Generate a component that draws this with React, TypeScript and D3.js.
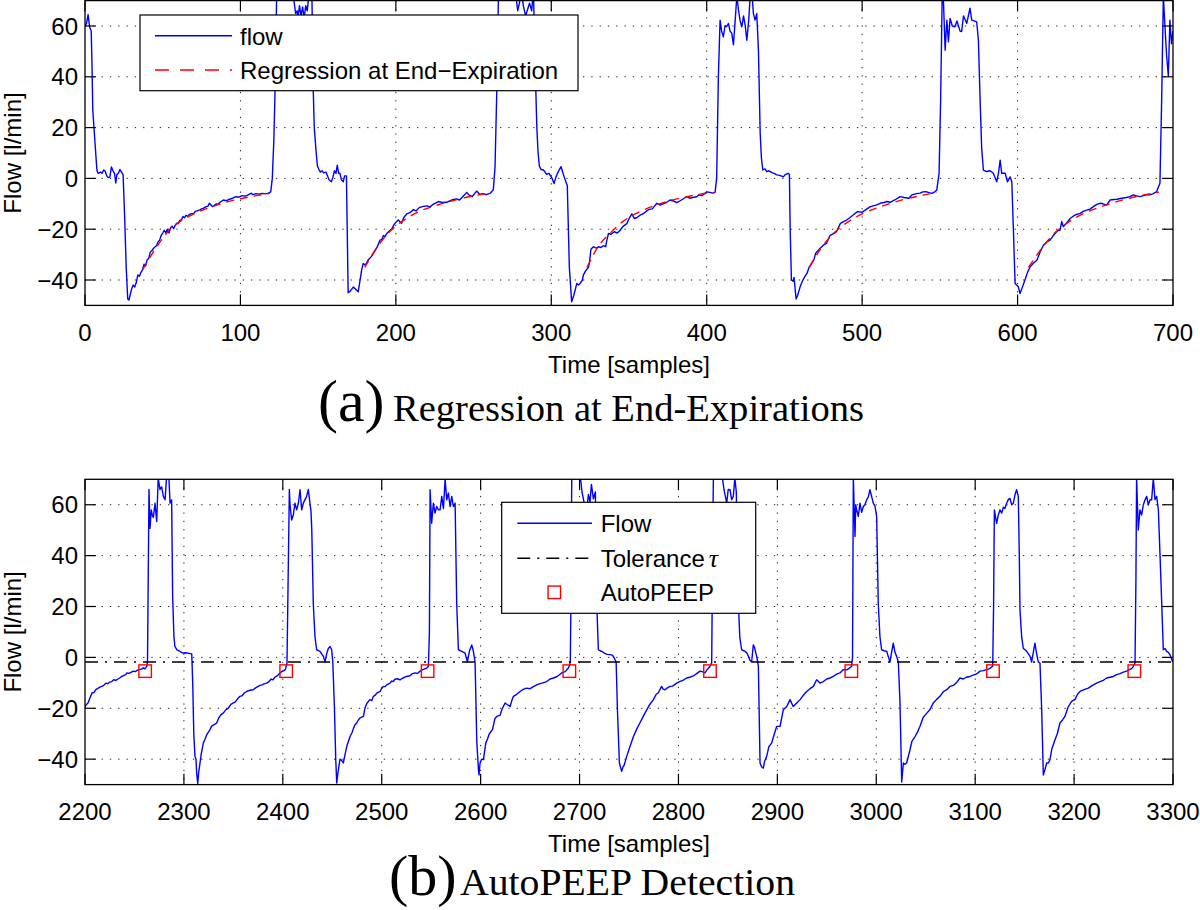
import React from 'react';
import * as d3 from 'd3';

// ---------- data ----------
const yTicks = [-40, -20, 0, 20, 40, 60];
const yDomain: [number, number] = [-50, 70];
const xTicksTop = [0, 100, 200, 300, 400, 500, 600, 700];
const xTicksBottom = [2200, 2300, 2400, 2500, 2600, 2700, 2800, 2900, 3000, 3100, 3200, 3300];

const flowTop: [number, number][] = [
  [0,60],[1,61],[2,64.5],[3,59.5],[4,58],[4.5,45],[5,27],[6,18],[7,9],[7.7,3],[8.5,2],[10,2.5],[11,2],[12,3.3],[13,2.8],[14,1],[15,0.3],[16,0.5],[17,4.5],[18,3],[19,2],[19.8,-1.8],[20.5,1.5],[21.5,2],[22.5,3.5],[23.5,2.5],[24.5,1.5],[25.5,-15],[26.5,-35],[27.5,-47.5],[28.3,-47.9],[29,-46],[30,-43.5],[31,-42],[32,-42.8],[33,-41],[34,-38],[35,-38.5],[36,-37],[37,-36],[38,-33.8],[39,-34.5],[40,-32],[41,-31.5],[42,-29],[43,-28.5],[44,-27.6],[45,-27],[46,-26.5],[47,-25],[48,-24.3],[49,-22.5],[50,-21.5],[51,-20.4],[52,-21.5],[53,-20],[54,-21.5],[55,-19.5],[56,-18.8],[57,-19.8],[58,-18.5],[59,-17.6],[60,-17.8],[61,-16.5],[62,-16.5],[63,-15],[64,-15.5],[65,-14.5],[66,-15],[67,-14.3],[68,-14],[70,-13.8],[71,-13],[72,-12.8],[74,-12.4],[75,-12],[76,-11.8],[78,-11.1],[79,-11],[80,-9.8],[81,-10.5],[82,-11.1],[83,-10.8],[84,-10.2],[86,-10],[87,-9.3],[89,-8.5],[91,-8.8],[93,-8.2],[95,-7.8],[97,-7.2],[99,-7.4],[101,-6.8],[103,-7],[105,-6.5],[107,-5.8],[108,-6.4],[110,-6],[112,-6.2],[114,-5.9],[116,-6.1],[118,-5.8],[119.5,-5.3],[120.5,0],[121.5,15],[122.5,40],[123.3,72],[124,80],[126,82],[128,78],[130,80],[132,76],[134,72],[135.5,65],[136.5,66],[137,63],[138,68],[139,64],[140,67.5],[141,63],[142,68],[143,66],[144,72],[145,75],[146,72],[146.8,36],[147.5,20],[148.5,12],[149.5,5],
  [150.5,3.5],[151.5,2.5],[152.5,3],[153.5,2.2],[155,2.5],[156,1],[157,-0.5],[158.5,-1.3],[159.5,0.5],[160.5,3],[161.5,2],[162.3,5.2],[163.2,2],[164,2],[165,-0.5],[166.2,-1.3],[167,1],[168.2,1],[169.3,-45],[170.5,-44.5],[172.6,-42.8],[174,-43.5],[175.8,-44.6],[177,-40],[178,-36],[179,-33.5],[180,-34],[181,-33.5],[182,-32.2],[184.4,-30.7],[186,-29],[187,-28],[188,-27],[189.8,-24.3],[191,-24],[192,-22.5],[193,-23],[194,-21.8],[196.3,-20.4],[197.5,-19.8],[199,-18],[200.5,-17],[201.6,-16.4],[202.5,-17],[203.7,-17.7],[205,-15.5],[207,-14],[209,-13.5],[211.3,-12.3],[213,-12.8],[215,-11.5],[217.7,-11],[220,-10.8],[222,-11.2],[224,-10.2],[227.4,-9.1],[230,-9.5],[232.7,-9.4],[235,-8.8],[237,-8.3],[239.1,-8.1],[241,-8.5],[243,-7.2],[245.6,-5.5],[247,-6.5],[249,-7.2],[252,-5],[254,-6.3],[256,-6],[258,-6.4],[260.6,-5.9],[262.7,-4.5],[263.8,4.4],[265,36],[266,72],[268,80],[272,84],[276,78],[278.4,66],[279.5,69],[280.5,75],[282,68],[283.5,64],[285,67],[286,69],[287.4,66],[288.5,74],[289.6,45],[290.7,20],[291.5,10],[292.4,4.6],[293.5,3.5],[294.9,3.3],[296,2.5],[297,1.6],[298.5,2],[300.2,0.4],[301.8,-2],[303,0.5],[304,2],[305.2,3.5],[306.3,4.6],[307.3,2.5],[308.4,0.4],[309.5,-1.5],[310.3,-2.8],[311.6,-34.8],[313.1,-48.6],
  [314.5,-46],[316.4,-41.4],[317.5,-42],[318.5,-41.4],[320,-40],[320.7,-38],[322,-36.5],[323.9,-35],[324.6,-33],[325.5,-27.9],[327.1,-26.9],[329,-27.5],[330.3,-26.9],[332,-27.2],[333.5,-26.5],[335,-26.9],[335.7,-24.5],[336.8,-21.7],[338.5,-22],[340.5,-21],[342.5,-21.5],[344.3,-20.4],[346,-19],[348.6,-17.8],[350.3,-15.5],[351.8,-14],[353.5,-15.8],[355,-15.5],[357.1,-14.5],[359,-14],[361.4,-12.8],[363,-12.2],[365,-12],[367.9,-9.8],[370,-10.5],[372,-10],[374,-9.5],[376.4,-8.5],[379,-9],[380.8,-9.5],[382.9,-8.8],[385,-8],[387.2,-7.2],[389,-7.8],[391,-7.5],[393.6,-7.2],[395,-6.5],[397,-6.8],[400,-5.3],[402,-5.5],[404,-5.8],[405.4,-5.5],[406.4,0],[407.5,40],[408.6,62.3],[409.6,58],[410.7,55.7],[411.8,60],[412.9,59.8],[414,61],[415,58],[416.1,57.2],[417.2,52.6],[418.3,62],[419.4,72],[420.5,66],[421.5,62],[422.6,59.7],[423.7,64],[424.8,60],[425.8,54.4],[427,62],[428,72],[429,74],[430,65],[431.1,62.3],[432.2,64.9],[433.3,50],[434.4,17.8],[435.2,8],[436.1,3.3],[437.5,3.8],[438.6,2.7],[440,3],[442,2.3],[444,1.8],[445,1.4],[447,1.2],[449.3,0.6],[450.5,1.5],[452.5,2],[453.2,1.5],[453.7,-20],[454.5,-40],[455.5,-40.5],[456.2,-39],[457.5,-47.5],[458.5,-46],[460.1,-42.7],[461.5,-40.5],[463,-38.8],[464.5,-37.4],[466,-34.8],[467.5,-33.5],[469,-32],[470,-29.6],[473,-27.5],[475,-26.3],[477,-25.6],[479.4,-22.4],[481.5,-21.7],[483.5,-21],[486,-17.7],[488,-17],[490,-16.4],[492,-15.5],[494,-14.5],[497,-13.1],[500,-13.3],[502,-12.5],[505,-11.2],[507,-10.8],[509,-10.5],[511.6,-9.8],[514,-9.5],[516,-9.1],[518,-9.4],[521,-8.5],[524.5,-7.2],[527,-7.5],[530,-7.8],[532,-6.5],[535,-6],[537.3,-5.8],[539,-5.3],[541,-5.2],[543,-5.6],[545,-5.9],[547,-5.2],[548,-4.6],
  [549.5,2],[550.5,31],[551.5,72],[552.3,70],[553.4,50.5],[554.5,62.3],[555.5,53.8],[556.6,63],[558,60],[559.7,59.7],[561,62],[563,58],[564,57.8],[565.2,64],[567.3,61],[569.4,67],[570.5,62.3],[572,62],[573.7,61.6],[574.8,54.4],[575.9,31],[576.9,12],[578,3.3],[580,2.7],[582.3,3],[584.4,2],[586.6,-1.3],[587.7,2],[588.8,7.2],[589.8,2],[592,2],[593.5,-1.3],[595.2,0.6],[596.3,-1.3],[597.3,-20],[598.4,-41.4],[600.5,-42.7],[601.6,-45.3],[603,-43],[604.7,-40.1],[606.4,-37],[608.1,-34.8],[610,-33.5],[612.4,-32.2],[614.5,-29],[616.6,-26.3],[618.8,-25],[620.9,-24.3],[623,-22.5],[624.1,-21.7],[626,-20.5],[627.3,-20.4],[628.4,-17],[629.5,-19],[631.6,-17.5],[633.8,-15.8],[636,-14.8],[638,-14.2],[640.2,-13.8],[642.3,-13],[644.5,-12.5],[646.6,-12.1],[649,-11],[651,-10.2],[653,-9.8],[655,-10],[657.3,-10.5],[659.5,-8.5],[662,-8.3],[664,-8.2],[667,-7.8],[670,-7.5],[672.3,-7.2],[674.5,-6.5],[676.6,-6.9],[678.8,-7.2],[681,-6.8],[683,-6.5],[685.2,-6.5],[687.3,-6],[689.5,-5.2],[691.6,-1.9],[692.7,31],[693.8,72],[694.8,60],[695.9,48.3],[697,40.3],[698,62.3],[699,53],[700,58]
];

const regression1: [number, number][] = [[37,-36],[45,-28],[52,-22],[60,-17.5],[70,-14],[80,-11.5],[90,-9.5],[100,-8],[110,-6.8],[119,-5.9]];
const regression2: [number, number][] = [[180,-35],[188,-27],[196,-21],[205,-16.5],[215,-13],[225,-10.8],[235,-9],[245,-7.5],[255,-6.3],[262,-5.5]];
const regression3: [number, number][] = [[323,-35],[330,-27],[338,-21.5],[346,-17],[355,-13.7],[365,-11],[375,-9],[385,-7.5],[395,-6.3],[405,-5.5]];
const regression4: [number, number][] = [[466,-35],[473,-28],[481,-22],[490,-17.5],[500,-14],[510,-11.5],[520,-9.5],[530,-7.8],[540,-6.5],[548,-5.5]];
const regression5: [number, number][] = [[607,-35],[615,-28],[623,-22],[632,-17.5],[642,-14],[652,-11.5],[662,-9.5],[672,-7.8],[682,-6.4],[691,-5.4]];
const regressions = [regression1, regression2, regression3, regression4, regression5];

const flowBottom: [number, number][] = [
  [2200,-19.3],[2201.5,-18.5],[2203,-17.9],[2205,-16],[2207,-14],[2209,-13.8],[2211,-12.7],[2213,-12.2],[2215,-11.7],[2217,-11.4],[2219,-11],[2221,-10.1],[2223,-10.4],[2225,-9.7],[2227,-9.5],[2229,-8.8],[2231,-9],[2233,-8.6],[2235,-8.1],[2237,-7.5],[2239,-7.2],[2241,-6.8],[2242.5,-6.1],[2244.5,-6.3],[2247,-5.8],[2249,-5.4],[2251,-5.6],[2253,-5],[2255.6,-4.8],[2257.5,-4.5],[2259,-4.1],[2260.5,-4.5],[2262.4,-3.5],[2263.2,-1.5],[2264.7,66],[2265.7,50.7],[2267,58],[2268,56],[2269.1,55],[2270.8,60.6],[2272.5,53.4],[2274,70.4],[2275.8,66],[2277.5,67],[2279.2,63.3],[2281,62],[2282.6,72],[2284.3,75],[2286,60.6],[2287.6,61.9],[2288.6,23.9],[2289.9,8.2],[2290.9,4.3],[2293,3],[2295.5,2.5],[2297.5,2],[2299.4,1.7],[2302,1.8],[2305,1.6],[2307.9,1.4],[2308.9,-10],[2310,-30],[2311.2,-38.9],[2312.2,-40],[2313,-46],[2314,-49.5],[2315,-45],[2316.3,-41.5],[2317.5,-38],[2319.6,-33.7],[2321.5,-32],[2323,-30.5],[2326.4,-28.4],[2328,-27],[2330,-26.5],[2333.1,-25.8],[2335,-24],[2337.5,-22.5],[2339.8,-21.9],[2342.5,-20.5],[2344.8,-20],[2347.5,-18.5],[2350,-17.9],[2352,-17.5],[2354.5,-16.2],[2356.7,-15.3],[2359,-15],[2361,-14],[2363.4,-13.4],[2366,-13],[2368,-12.8],[2370.1,-12.7],[2372.5,-12],[2375,-11.4],[2377,-11],[2379,-10.8],[2381,-10.4],[2383.7,-10.1],[2386,-9.5],[2388.3,-8.5],[2390,-8.8],[2392,-7.8],[2394.5,-7.2],[2397.1,-6.1],[2399,-5.6],[2401,-5.2],[2402.5,-4.8],[2404.2,-2.3],[2405,20],[2406.6,66],[2407.3,60],[2408.9,54],[2410.6,56],[2412.3,60.6],[2414,58],[2415.7,60.6],[2417.4,65.9],[2419.1,58],[2420.7,60.6],[2422.4,62],[2424.1,63.3],[2425.8,66],[2427,62],[2428.5,57.4],[2429.3,50],[2430.8,21.3],[2432.5,8.2],[2434.2,3],[2437.6,2.4],[2441,0.4],[2442.7,-1.8],[2444.4,1.5],[2446,3.5],[2447.7,4.3],[2449.4,3],[2450.5,-1.5],[2452.2,-20],[2453.5,-40],[2454.5,-49.4],[2455.5,-46],[2457.8,-40],[2459.5,-40.5],[2461.2,-41.5],[2463,-38],[2465,-34.5],[2468,-31.1],[2470,-29.5],[2471.5,-27.8],[2473,-26.5],[2474.7,-25.8],[2476.5,-24.5],[2478,-23.8],[2481.5,-23.2],[2483,-20],[2485,-18],[2488,-16.6],[2490,-17],[2491.5,-15.3],[2493.5,-14.8],[2495,-14],[2498.3,-13.4],[2500,-12.2],[2501.7,-11.4],[2503.5,-11.5],[2505,-10.8],[2508.4,-10.1],[2510,-9.3],[2511.5,-9.5],[2513.4,-8.6],[2516,-8.4],[2518.5,-8.8],[2521,-8.2],[2525,-7.5],[2528.6,-7.2],[2530.5,-6.5],[2533.7,-6.1],[2536,-6.3],[2538.8,-5.4],[2541,-4.9],[2543.5,-4.5],[2545.5,-4.2],[2547.2,-3.5],
  [2548.2,10],[2548.9,65.9],[2550.5,52.7],[2552.2,60.6],[2553.9,56.7],[2555.6,59.3],[2557.3,58],[2559,58],[2560.7,63.3],[2562.4,58.5],[2564.1,70],[2565.7,61.9],[2567.4,64.6],[2569.1,59.3],[2570.8,63.3],[2572.5,59.3],[2574.2,60.6],[2575.8,21.3],[2577.5,3],[2580.9,2.4],[2584.3,1.7],[2586.6,-1.8],[2588.6,2.4],[2591,4.9],[2592.7,2.4],[2594.4,-2],[2596.1,-33],[2597.8,-44.2],[2598.4,-46.2],[2599.4,-41.5],[2601,-40],[2602.8,-40.2],[2605.2,-33.7],[2607,-32],[2608.8,-30],[2612,-28.4],[2614.5,-24],[2616.3,-23.2],[2619.6,-22.8],[2621.5,-20.5],[2624.7,-17.9],[2626.7,-18.5],[2629.8,-19.3],[2631.5,-17],[2633.1,-15.3],[2636.5,-14.5],[2639.9,-13.4],[2643,-12.6],[2646.6,-12.1],[2650,-12.3],[2653,-11.6],[2656.7,-10.8],[2660.1,-10.3],[2663,-10],[2666.8,-9.5],[2670.2,-8.5],[2673.5,-8.1],[2677,-7.6],[2680.3,-6.6],[2682,-6.1],[2685.5,-5.6],[2688.7,-4.2],[2690,-3],[2690.7,-1],[2691.5,30],[2692.1,70],[2693,85],[2697,80],[2700.5,72],[2702.5,65],[2703.9,62.3],[2705,60],[2707.3,58.5],[2709,64],[2710.6,61],[2712,68],[2714,62.3],[2716,65],[2717.4,21.3],[2719,3],[2721,2.5],[2722.5,2.4],[2725,1.7],[2728,1.2],[2732.5,1],[2734.2,0.4],[2737,-1.8],[2738.3,-20.5],[2740.3,-41.5],[2742.6,-44.8],[2744,-43],[2745,-42.5],[2747.7,-38.9],[2751,-35],[2754.5,-31.1],[2758,-28],[2761,-25.8],[2764,-23.5],[2767.9,-20.6],[2771,-18.5],[2774.7,-16.6],[2777.5,-14.5],[2779.5,-14],[2783,-11.4],[2784.5,-12.5],[2786.5,-12.7],[2788,-12.2],[2791.5,-11.4],[2794,-11.3],[2798.3,-10.1],[2801,-9.5],[2804.5,-9],[2808.3,-8.1],[2811.5,-7.8],[2815,-7.3],[2818,-6.5],[2821.8,-5.4],[2824,-5.6],[2826.8,-6.1],[2829,-4.8],[2831.9,-3.5],[2833.6,-2.2],
  [2834.5,40],[2835.3,70.4],[2838,80],[2842,84],[2844,72],[2846,66],[2848.8,60.6],[2850.3,66],[2852.1,65.9],[2853.8,62],[2855.5,63.3],[2857,70.5],[2858.5,65],[2860.6,21.3],[2862,8],[2863.9,3],[2867.3,2.4],[2869.5,1.5],[2872.4,-1.2],[2874,-1.8],[2875.7,4.9],[2876.8,4],[2879.1,0.4],[2880.8,-3.5],[2882.5,-41.5],[2884,-43],[2885.8,-43.5],[2887,-41],[2889.2,-38.9],[2891.5,-35],[2894.2,-33.7],[2897,-30],[2899.3,-27.1],[2902.7,-27.1],[2906,-20.6],[2909.5,-19.3],[2912.8,-16.6],[2916,-19.3],[2919.6,-17.9],[2923,-16.6],[2926,-15],[2929.6,-13.4],[2933,-12.3],[2936.4,-11.4],[2939.7,-8.8],[2943.1,-10.1],[2946.5,-9.5],[2949.9,-8.5],[2953.2,-8.1],[2956.5,-7.5],[2959.9,-6.6],[2963.3,-6.1],[2966.7,-4.8],[2970.1,-4.9],[2971.8,-4.5],[2975.1,-3.5],[2976,0],[2976.8,70.4],[2978.5,47.5],[2979.2,60],[2980.2,58],[2981.8,55.4],[2983.5,60.6],[2985.2,57],[2986.9,59.3],[2988.5,60],[2990.2,61.9],[2991.9,63],[2993.6,65.9],[2995.3,63.3],[2997,60.6],[2998.7,59.5],[3000.4,55.4],[3002,21.3],[3003.7,8.2],[3005.4,3],[3008.8,2.5],[3010.5,2.4],[3012,0.5],[3013.9,-1.8],[3015.5,2],[3017.2,5.6],[3018.9,2],[3020.6,0.4],[3022.3,-1.8],[3024,-17.9],[3025.7,-49],[3027.4,-41.5],[3029,-42],[3030.7,-41.5],[3034.1,-36.3],[3036,-33],[3039.2,-31.1],[3041.5,-29.5],[3044.2,-27.1],[3047.5,-23.5],[3050.9,-22],[3054.3,-20.5],[3057.7,-17.9],[3061,-16.5],[3064.4,-15.3],[3067.8,-13.5],[3071.2,-12.7],[3074.5,-11.4],[3078,-11],[3081,-10],[3084.6,-8.1],[3088,-8.5],[3091,-7.8],[3094.8,-7.5],[3098,-7],[3101.5,-6.5],[3104.9,-5.4],[3108.3,-5.2],[3111.6,-4.8],[3114.5,-4.4],[3117.7,-3.5],
  [3118.6,20],[3119.4,58],[3121.7,52.7],[3123.4,56],[3125.1,58],[3126.8,56.7],[3128.5,59],[3130,58.5],[3131.8,60.6],[3133.5,62],[3135.2,62.5],[3136.9,60],[3138.6,60.6],[3140.3,64],[3141.9,65.9],[3143.6,63.3],[3144.6,40],[3145.3,18.7],[3147,8],[3148.7,3.5],[3150.4,3],[3152,2.4],[3155.4,0.5],[3157.1,-1.8],[3158.8,2],[3160.4,5.6],[3162.1,1.5],[3163.8,-1.8],[3165.5,-2.2],[3167.2,-20],[3168.9,-46.2],[3170.6,-44],[3172.3,-41.5],[3174,-41.5],[3175.6,-40.2],[3177.5,-36],[3180.7,-32.4],[3183,-30],[3185.7,-25.8],[3188.5,-24.5],[3190.7,-23.2],[3194,-19.5],[3197.5,-17.3],[3201,-16.5],[3203.5,-14.5],[3206,-13.4],[3210,-12.7],[3214.4,-12.1],[3218.5,-11],[3222.8,-10.1],[3226.2,-9.5],[3229.6,-9],[3232.9,-8.1],[3236.3,-7.8],[3239.7,-7.5],[3243,-6.8],[3246.4,-6.4],[3249.8,-5.8],[3253.1,-5.4],[3256.5,-4.7],[3258.2,-4.4],[3259.9,-3.5],[3261.6,-2.2],[3262.5,30],[3263.2,70.4],[3264.9,50.1],[3266.6,58],[3268.3,56],[3270,60],[3271.7,61.9],[3273.4,63.3],[3275.1,60],[3276.8,62],[3278.4,61.9],[3280.1,70.4],[3281.8,62],[3283.5,63.3],[3285.2,58],[3286.9,40],[3288.6,21.3],[3290.2,3],[3292,3.5],[3293.6,2.4],[3295.3,2],[3297,1],[3299.7,-1.8]
];

const autoPeepTimes = [2260.8, 2403.4, 2546.4, 2689.7, 2831.9, 2974.8, 3118, 3260.9];
const autoPeepValues = [-5.4, -5.4, -5.4, -5.4, -5.4, -5.4, -5.4, -5.4];
const toleranceTau = -1.8;

// ---------- styling ----------
const SANS = "'Liberation Sans', Arial, Helvetica, sans-serif";
const SERIF = "'Liberation Serif', 'Times New Roman', serif";
const BLUE = '#0000ff';
const RED = '#ff0000';
const FS = 24;
const TICK = 10.9;
const DASHDOT = '13,7,2,7';

type Box = { l: number; r: number; t: number; b: number };
const topBox: Box = { l: 85, r: 1173, t: 0.6, b: 305.4 };
const botBox: Box = { l: 85, r: 1173, t: 479.3, b: 784.6 };

type Scale = d3.ScaleLinear<number, number>;

function AxesFrame({ box, x, y, xTicks, clipId }: { box: Box; x: Scale; y: Scale; xTicks: number[]; clipId: string }) {
  const grid = '1.3,7';
  return (
    <g>
      <defs>
        <clipPath id={clipId}>
          <rect x={box.l} y={box.t} width={box.r - box.l} height={box.b - box.t} />
        </clipPath>
      </defs>
      {xTicks.slice(1, -1).map((t) => (
        <line key={'gx' + t} x1={x(t)} x2={x(t)} y1={box.t} y2={box.b} stroke="#222" strokeWidth={1} strokeDasharray={grid} />
      ))}
      {yTicks.map((t) => (
        <line key={'gy' + t} x1={box.l} x2={box.r} y1={y(t)} y2={y(t)} stroke="#222" strokeWidth={1} strokeDasharray={grid} />
      ))}
    </g>
  );
}

function AxesOverlay({ box, x, y, xTicks }: { box: Box; x: Scale; y: Scale; xTicks: number[] }) {
  const fmt = (v: number) => (v < 0 ? '\u2212' + Math.abs(v) : String(v));
  return (
    <g>
      {xTicks.map((t) => (
        <g key={'tx' + t}>
          <line x1={x(t)} x2={x(t)} y1={box.b} y2={box.b - TICK} stroke="#000" strokeWidth={1.2} />
          <line x1={x(t)} x2={x(t)} y1={box.t} y2={box.t + TICK} stroke="#000" strokeWidth={1.2} />
          <text x={x(t)} y={box.b + 35.8} textAnchor="middle" fontFamily={SANS} fontSize={FS} fill="#000">{t}</text>
        </g>
      ))}
      {yTicks.map((t) => (
        <g key={'ty' + t}>
          <line x1={box.l} x2={box.l + TICK} y1={y(t)} y2={y(t)} stroke="#000" strokeWidth={1.2} />
          <line x1={box.r} x2={box.r - TICK} y1={y(t)} y2={y(t)} stroke="#000" strokeWidth={1.2} />
          <text x={78} y={y(t) + 8.5} textAnchor="end" fontFamily={SANS} fontSize={FS} fill="#000">{fmt(t)}</text>
        </g>
      ))}
      <rect x={box.l} y={box.t} width={box.r - box.l} height={box.b - box.t} fill="none" stroke="#000" strokeWidth={1.3} />
      <text x={(box.l + box.r) / 2} y={box.b + 67.6} textAnchor="middle" fontFamily={SANS} fontSize={FS} fill="#000">Time [samples]</text>
      <text transform={`translate(21,${(box.t + box.b) / 2}) rotate(-90)`} textAnchor="middle" fontFamily={SANS} fontSize={FS} fill="#000">Flow [l/min]</text>
    </g>
  );
}

export default function App() {
  const W = 1200;
  const H = 910;

  const yTop = d3.scaleLinear().domain(yDomain).range([topBox.b, topBox.t]);
  const xTop = d3.scaleLinear().domain([xTicksTop[0], xTicksTop[xTicksTop.length - 1]]).range([topBox.l, topBox.r]);
  const yBot = d3.scaleLinear().domain(yDomain).range([botBox.b, botBox.t]);
  const xBot = d3.scaleLinear().domain([xTicksBottom[0], xTicksBottom[xTicksBottom.length - 1]]).range([botBox.l, botBox.r]);

  const lineTop = d3.line<[number, number]>().x((d) => xTop(d[0])).y((d) => yTop(d[1]));
  const lineReg = d3.line<[number, number]>().x((d) => xTop(d[0])).y((d) => yTop(d[1])).curve(d3.curveMonotoneX);
  const lineBot = d3.line<[number, number]>().x((d) => xBot(d[0])).y((d) => yBot(d[1]));

  const sq = 12.5;

  return (
    <svg width={W} height={H} viewBox={`0 0 ${W} ${H}`} style={{ position: 'absolute', left: 0, top: 0, background: '#fff' }}>
      <rect x={0} y={0} width={W} height={H} fill="#fff" />

      {/* ---------- Panel (a) ---------- */}
      <AxesFrame box={topBox} x={xTop} y={yTop} xTicks={xTicksTop} clipId="clipTop" />
      <g clipPath="url(#clipTop)">
        <path d={lineTop(flowTop) || ''} fill="none" stroke={BLUE} strokeWidth={1.4} strokeLinejoin="round" />
        {regressions.map((seg, i) => (
          <path key={'r' + i} d={lineReg(seg) || ''} fill="none" stroke={RED} strokeWidth={1.4} strokeDasharray="8,6" />
        ))}
      </g>
      <AxesOverlay box={topBox} x={xTop} y={yTop} xTicks={xTicksTop} />
      {/* legend (a) */}
      <g>
        <rect x={140} y={15} width={438} height={75.7} fill="#fff" stroke="#000" strokeWidth={1.2} />
        <line x1={155} x2={232} y1={35.7} y2={35.7} stroke={BLUE} strokeWidth={1.4} />
        <text x={240} y={44.5} fontFamily={SANS} fontSize={FS} fill="#000">flow</text>
        <line x1={155} x2={232} y1={70} y2={70} stroke={RED} strokeWidth={1.4} strokeDasharray="14,11" />
        <text x={240} y={78.8} fontFamily={SANS} fontSize={FS} fill="#000">Regression at End{'\u2212'}Expiration</text>
      </g>
      {/* caption (a) */}
      <text x={318} y={421} fontFamily={SERIF} fontSize={60} fill="#000">(a)</text>
      <text x={393} y={421} fontFamily={SERIF} fontSize={38} fill="#000" textLength={471} lengthAdjust="spacingAndGlyphs">Regression at End-Expirations</text>

      {/* ---------- Panel (b) ---------- */}
      <AxesFrame box={botBox} x={xBot} y={yBot} xTicks={xTicksBottom} clipId="clipBot" />
      <g clipPath="url(#clipBot)">
        <path d={lineBot(flowBottom) || ''} fill="none" stroke={BLUE} strokeWidth={1.4} strokeLinejoin="round" />
        <line x1={botBox.l} x2={botBox.r} y1={yBot(toleranceTau)} y2={yBot(toleranceTau)} stroke="#000" strokeWidth={1.5} strokeDasharray={DASHDOT} />
        {autoPeepTimes.map((t, i) => (
          <rect key={'ap' + i} x={xBot(t) - sq / 2} y={yBot(autoPeepValues[i]) - sq / 2} width={sq} height={sq} fill="none" stroke={RED} strokeWidth={1.4} />
        ))}
      </g>
      <AxesOverlay box={botBox} x={xBot} y={yBot} xTicks={xTicksBottom} />
      {/* legend (b) */}
      <g>
        <rect x={501.7} y={502.3} width={254} height={111} fill="#fff" stroke="#000" strokeWidth={1.2} />
        <line x1={517.3} x2={592} y1={523.3} y2={523.3} stroke={BLUE} strokeWidth={1.4} />
        <text x={600.7} y={531.8} fontFamily={SANS} fontSize={FS} fill="#000">Flow</text>
        <line x1={517.3} x2={592} y1={558.3} y2={558.3} stroke="#000" strokeWidth={1.5} strokeDasharray={DASHDOT} />
        <text x={600.7} y={566.8} fontFamily={SANS} fontSize={FS} fill="#000">
          Tolerance<tspan dx={4} fontFamily={SERIF} fontStyle="italic" fontSize={26}>{'\u03C4'}</tspan>
        </text>
        <rect x={554.3 - sq / 2} y={592.3 - sq / 2} width={sq} height={sq} fill="none" stroke={RED} strokeWidth={1.4} />
        <text x={600.7} y={600.8} fontFamily={SANS} fontSize={FS} fill="#000">AutoPEEP</text>
      </g>
      {/* caption (b) */}
      <text x={389} y={895} fontFamily={SERIF} fontSize={58} fill="#000">(b)</text>
      <text x={460} y={895} fontFamily={SERIF} fontSize={38} fill="#000" textLength={335} lengthAdjust="spacingAndGlyphs">AutoPEEP Detection</text>
    </svg>
  );
}
